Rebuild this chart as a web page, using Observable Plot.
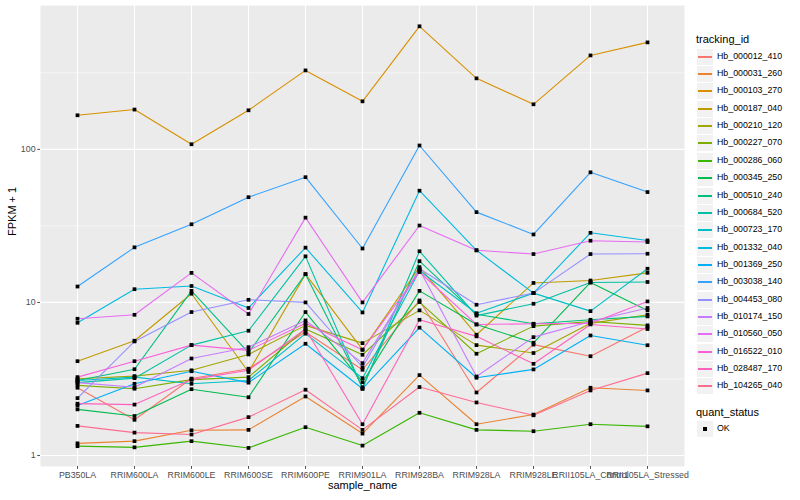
<!DOCTYPE html>
<html>
<head>
<meta charset="utf-8">
<script src="https://cdn.jsdelivr.net/npm/d3@7"></script>
<script src="https://cdn.jsdelivr.net/npm/@observablehq/plot@0.6"></script>
<style>
  html, body { margin: 0; padding: 0; background: white; }
  #wrap { position: relative; width: 800px; height: 500px; font-family: "Liberation Sans", Arial, Helvetica, sans-serif; }
  .lg-title { position: absolute; font-size: 11px; color: #000; line-height: 1; }
  .lg-key { position: absolute; width: 16px; height: 16px; background: #F2F2F2; }
  .lg-label { position: absolute; font-size: 8.8px; color: #000; line-height: 1; }
</style>
</head>
<body>
<div id="wrap"></div>
<script>
// ---------------- data ----------------
const samples = ["PB350LA", "RRIM600LA", "RRIM600LE", "RRIM600SE", "RRIM600PE", "RRIM901LA",
  "RRIM928BA", "RRIM928LA", "RRIM928LE", "RRII105LA_Control", "RRII105LA_Stressed"];

const trackingIds = ["Hb_000012_410", "Hb_000031_260", "Hb_000103_270", "Hb_000187_040", "Hb_000210_120",
  "Hb_000227_070", "Hb_000286_060", "Hb_000345_250", "Hb_000510_240", "Hb_000684_520", "Hb_000723_170",
  "Hb_001332_040", "Hb_001369_250", "Hb_003038_140", "Hb_004453_080", "Hb_010174_150", "Hb_010560_050",
  "Hb_016522_010", "Hb_028487_170", "Hb_104265_040"];

// FPKM + 1 per sample (order of samples)
const Hb_000012_410 = [2.77, 1.71, 3.18, 3.69, 6.4, 3.63, 10.3, 2.58, 5.3, 4.45, 6.9];
const Hb_000031_260 = [1.2, 1.24, 1.46, 1.47, 2.43, 1.39, 3.35, 1.6, 1.85, 2.77, 2.66];
const Hb_000103_270 = [167, 182, 108, 180, 328, 206, 637, 291, 197, 411, 500];
const Hb_000187_040 = [4.13, 5.62, 11.4, 3.51, 15.3, 4.91, 17, 6.15, 13.4, 13.9, 15.6];
const Hb_000210_120 = [3.17, 3.3, 3.6, 4.57, 7.08, 5.42, 8.87, 5.26, 4.67, 7.3, 8.3];
const Hb_000227_070 = [2.87, 2.73, 3.13, 3.25, 6.7, 4.55, 10.05, 4.62, 7.0, 7.5, 7.08];
const Hb_000286_060 = [1.15, 1.13, 1.24, 1.12, 1.53, 1.16, 1.9, 1.47, 1.44, 1.6, 1.55];
const Hb_000345_250 = [2.0, 1.81, 2.71, 2.4, 8.65, 3.01, 11.9, 7.18, 5.45, 13.5, 8.87];
const Hb_000510_240 = [3.09, 3.66, 11.9, 4.69, 15.3, 2.79, 18.6, 8.36, 7.25, 7.7, 8.1];
const Hb_000684_520 = [2.99, 3.2, 5.26, 6.53, 20, 2.73, 21.6, 8.2, 9.8, 13.5, 13.6];
const Hb_000723_170 = [3.09, 3.25, 2.94, 3.09, 6.25, 3.2, 16.1, 8.5, 11.5, 8.77, 16.6];
const Hb_001332_040 = [7.36, 12.2, 12.8, 9.2, 22.8, 8.6, 53.7, 21.9, 11.5, 28.5, 25.4];
const Hb_001369_250 = [2.12, 2.94, 3.55, 2.99, 5.37, 2.73, 6.84, 3.22, 3.65, 6.08, 5.25];
const Hb_003038_140 = [12.7, 22.9, 32.4, 48.7, 65.8, 22.5, 106, 38.9, 27.8, 70.8, 52.6];
const Hb_004453_080 = [2.37, 5.56, 8.65, 10.4, 10.0, 3.77, 16.6, 9.66, 11.5, 20.7, 20.8];
const Hb_010174_150 = [2.99, 2.79, 4.3, 5.1, 7.63, 4.01, 16.4, 3.28, 5.93, 7.5, 9.2];
const Hb_010560_050 = [7.82, 8.3, 15.6, 8.4, 35.8, 10, 31.8, 21.9, 20.7, 25.3, 24.8];
const Hb_016522_010 = [3.25, 4.13, 5.26, 4.86, 7.3, 4.91, 15.8, 7.18, 7.25, 7.3, 10.15];
const Hb_028487_170 = [2.18, 2.15, 3.13, 3.6, 6.7, 1.6, 7.7, 6.0, 3.97, 7.18, 6.7];
const Hb_104265_040 = [1.56, 1.41, 1.37, 1.78, 2.69, 1.47, 2.8, 2.22, 1.83, 2.66, 3.45];

const quantStatus = ["OK"];
const majorTicks = [1, 10, 100];
const minorTicks = [Math.sqrt(10), Math.sqrt(1000), Math.sqrt(100000)];

// ggplot2 hue palette for 20 levels
const palette = ["#F8766D", "#EA8331", "#D89000", "#C09B00", "#A3A500", "#7CAE00", "#39B600", "#00BB4E",
  "#00BF7D", "#00C1A3", "#00BFC4", "#00BAE0", "#00B0F6", "#35A2FF", "#9590FF", "#C77CFF", "#E76BF3",
  "#FA62DB", "#FF62BC", "#FF6C91"];

const seriesValues = [Hb_000012_410, Hb_000031_260, Hb_000103_270, Hb_000187_040, Hb_000210_120,
  Hb_000227_070, Hb_000286_060, Hb_000345_250, Hb_000510_240, Hb_000684_520, Hb_000723_170,
  Hb_001332_040, Hb_001369_250, Hb_003038_140, Hb_004453_080, Hb_010174_150, Hb_010560_050,
  Hb_016522_010, Hb_028487_170, Hb_104265_040];

const rows = [];
trackingIds.forEach((id, k) => {
  seriesValues[k].forEach((v, i) => rows.push({tracking_id: id, sample_name: samples[i], fpkm: v, quant_status: quantStatus[0]}));
});

// ---------------- chart ----------------
const font = "'Liberation Sans', Arial, Helvetica, sans-serif";
const chart = Plot.plot({
  width: 800,
  height: 500,
  marginLeft: 40,
  marginRight: 116,
  marginTop: 5,
  marginBottom: 34,
  style: {fontFamily: font, fontSize: "8.8px", background: "white", overflow: "visible"},
  x: {type: "point", domain: samples, padding: 0.6, label: null},
  y: {type: "log", domain: [0.847, 871], label: null},
  color: {domain: trackingIds, range: palette},
  marks: [
    Plot.frame({fill: "#EBEBEB", stroke: null}),
    Plot.ruleY(minorTicks, {stroke: "white", strokeWidth: 0.55}),
    Plot.ruleY(majorTicks, {stroke: "white", strokeWidth: 1.1}),
    Plot.ruleX(samples, {stroke: "white", strokeWidth: 1.1}),
    Plot.axisY({ticks: majorTicks, tickFormat: d => String(d), tickSize: 2.75, tickPadding: 2.2, color: "#4D4D4D", label: null}),
    Plot.axisX({tickSize: 2.75, tickPadding: 2.2, color: "#4D4D4D", label: null}),
    Plot.line(rows, {x: "sample_name", y: "fpkm", z: "tracking_id", stroke: "tracking_id", strokeWidth: 1.1}),
    Plot.dot(rows, {x: "sample_name", y: "fpkm", symbol: "square", r: 2.1, fill: "black", stroke: null}),
    Plot.text(["sample_name"], {frameAnchor: "bottom", dy: 22, fontSize: 11, fill: "black"}),
    Plot.text(["FPKM + 1"], {frameAnchor: "left", dx: -28, rotate: -90, fontSize: 11, fill: "black"})
  ]
});

const wrap = document.getElementById("wrap");
wrap.appendChild(chart);

// ---------------- legend ----------------
function addEl(cls, left, top, text) {
  const d = document.createElement("div");
  d.className = cls;
  d.style.left = left + "px";
  d.style.top = top + "px";
  if (text) d.textContent = text;
  wrap.appendChild(d);
  return d;
}
const lgLeft = 696;
addEl("lg-title", lgLeft, 34, "tracking_id");
const step = 17.35, first = 56.7;
trackingIds.forEach((id, i) => {
  const cy = first + i * step;
  const key = addEl("lg-key", lgLeft + 1, Math.round(cy - 8));
  const ln = document.createElement("div");
  ln.style.cssText = `position:absolute;left:1px;right:1px;top:7px;height:2px;background-color:${palette[i]};`;
  key.appendChild(ln);
  addEl("lg-label", lgLeft + 21, Math.round(cy - 5), id);
});
addEl("lg-title", lgLeft, 406.5, "quant_status");
const qcy = 429;
const qkey = addEl("lg-key", lgLeft + 1, qcy - 8);
const sq = document.createElement("div");
sq.style.cssText = "position:absolute;left:6px;top:6px;width:4px;height:4px;background:black;";
qkey.appendChild(sq);
addEl("lg-label", lgLeft + 21, qcy - 5, quantStatus[0]);
</script>
</body>
</html>
